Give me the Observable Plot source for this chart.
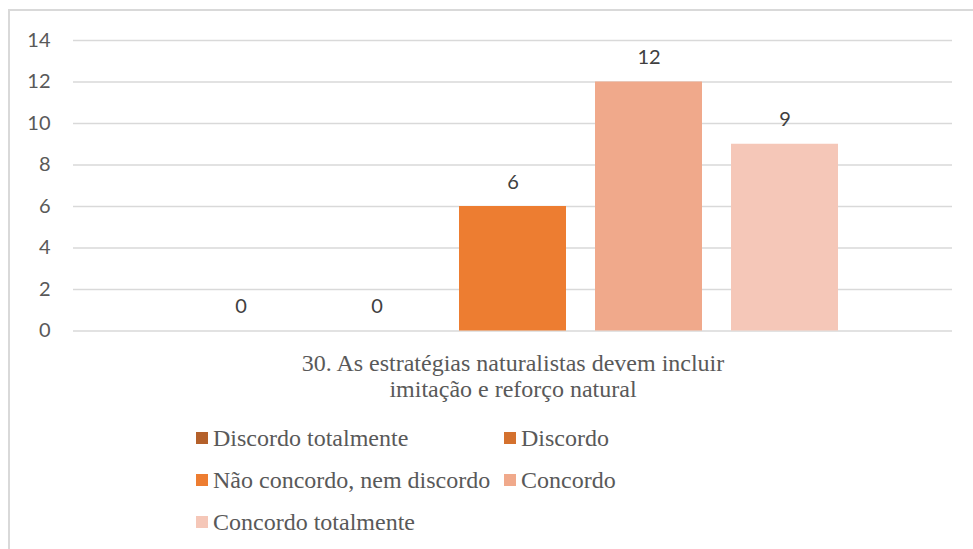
<!DOCTYPE html>
<html>
<head>
<meta charset="utf-8">
<script src="https://cdn.jsdelivr.net/npm/d3@7"></script>
<script src="https://cdn.jsdelivr.net/npm/@observablehq/plot@0.6"></script>
<style>
  html, body { margin: 0; padding: 0; background: #fff; }
  #wrap { position: relative; width: 973px; height: 549px; overflow: hidden; background: #fff; }
  #frame { position: absolute; left: 8px; top: 9px; width: 1000px; height: 1000px;
           border-left: 2px solid #d9d9d9; border-top: 2px solid #d9d9d9; box-sizing: border-box; }
  #chart { position: absolute; left: 0; top: 0; }
  #legend { position: absolute; left: 196px; top: 417px;
            display: grid; grid-template-columns: 308px auto; grid-auto-rows: 42px;
            font-family: 'Liberation Serif', serif; font-size: 24px; color: #595959; }
  .item { display: flex; align-items: center; white-space: nowrap; }
  .sw { width: 12px; height: 12px; margin-right: 5px; flex: none; }
</style>
</head>
<body>
<div id="wrap">
  <div id="frame"></div>
  <div id="chart"></div>
  <div id="legend"></div>
</div>
<script>
// ---- data ----
const categories = ["Discordo totalmente", "Discordo", "Não concordo, nem discordo", "Concordo", "Concordo totalmente"];
const values = [0, 0, 6, 12, 9];
const yTicks = [0, 2, 4, 6, 8, 10, 12, 14];
const axisTitle = "30. As estratégias naturalistas devem incluir\nimitação e reforço natural";
const palette = ["#b4602a", "#d4712e", "#ed7d31", "#f0a98b", "#f5c7b8"];

const data = categories.map((c, i) => ({cat: c, value: values[i]}));
const serif = "'Liberation Serif', serif";
const sans = "Lato, 'Open Sans', sans-serif";

const chart = Plot.plot({
  width: 973,
  height: 412,
  marginLeft: 73,
  marginRight: 21,
  marginTop: 40,
  marginBottom: 81.5,
  style: {fontFamily: sans, fontSize: "20px", color: "#595959", background: "transparent"},
  x: {domain: categories, paddingInner: 0.213, paddingOuter: 0.838, axis: null},
  y: {domain: [0, 14], ticks: yTicks, tickSize: 0, tickPadding: 23, label: null},
  color: {domain: categories, range: palette},
  marks: [
    Plot.ruleY(yTicks, {stroke: "#d9d9d9", strokeWidth: 1.5}),
    Plot.barY(data, {x: "cat", y: "value", fill: "cat"}),
    Plot.text(data, {x: "cat", y: "value", text: d => String(d.value), dy: -18, lineAnchor: "bottom",
                     fill: "#404040", fontSize: 20}),
    Plot.text([axisTitle], {frameAnchor: "bottom", lineAnchor: "top", dy: 22, lineHeight: 1.08,
                            fontSize: 24, fontFamily: serif, fill: "#595959"})
  ]
});
document.getElementById("chart").appendChild(chart);

// ---- legend ----
const legend = document.getElementById("legend");
categories.forEach((c, i) => {
  const item = document.createElement("div");
  item.className = "item";
  const sw = document.createElement("span");
  sw.className = "sw";
  sw.style.background = palette[i];
  const lab = document.createElement("span");
  lab.textContent = c;
  item.appendChild(sw);
  item.appendChild(lab);
  legend.appendChild(item);
});
</script>
</body>
</html>
